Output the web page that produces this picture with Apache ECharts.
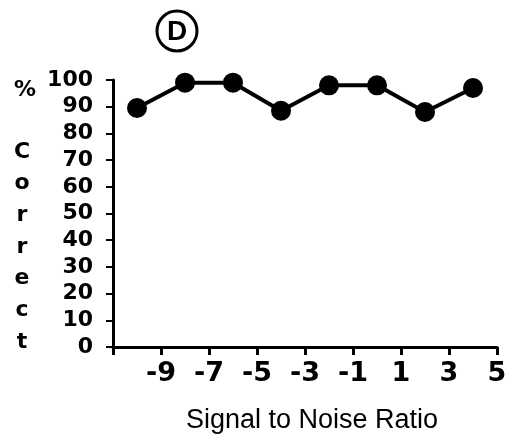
<!DOCTYPE html>
<html>
<head>
<meta charset="utf-8">
<script src="https://cdn.jsdelivr.net/npm/echarts@6/dist/echarts.min.js"></script>
<style>html,body{margin:0;padding:0;background:#fff}#c{width:512px;height:442px}</style>
</head>
<body>
<div id="c"></div>
<script>
const snrValues = [-10, -8, -6, -4, -2, 0, 2, 4];
const percentCorrect = [89.5, 99, 99, 88.5, 98, 98, 88, 97];
const xTickLabels = ['-9', '-7', '-5', '-3', '-1', '1', '3', '5'];
const yTickLabels = ['0', '10', '20', '30', '40', '50', '60', '70', '80', '90', '100'];
const panelLetter = 'D';
const xTitle = 'Signal to Noise Ratio';
const yTitleSymbol = '%';
const yTitleWord = 'Correct';

const chart = echarts.init(document.getElementById('c'), null, {renderer: 'canvas'});
const numFont = 'DejaVu Sans';
chart.setOption({
  animation: false,
  backgroundColor: '#fff',
  grid: {left: 113, right: 15, top: 80, bottom: 95, containLabel: false},
  xAxis: {
    type: 'value', min: -11, max: 5, interval: 2,
    splitLine: {show: false},
    axisLine: {show: true, onZero: false, lineStyle: {color: '#000', width: 3}},
    axisTick: {show: true, inside: false, length: 8, lineStyle: {color: '#000', width: 3}},
    axisLabel: {
      margin: 13, color: '#000', fontFamily: numFont, fontWeight: 'bold', fontSize: 27,
      formatter: v => xTickLabels.includes(String(v)) ? String(v) : ''
    },
    name: xTitle, nameLocation: 'middle', nameGap: 60,
    nameTextStyle: {color: '#000', fontFamily: 'Liberation Sans', fontSize: 27, padding: [0, 0, 0, 14]}
  },
  yAxis: {
    type: 'value', min: 0, max: 100, interval: 10,
    splitLine: {show: false},
    axisLine: {show: true, onZero: false, lineStyle: {color: '#000', width: 3}},
    axisTick: {show: true, inside: false, length: 7, lineStyle: {color: '#000', width: 2}},
    axisLabel: {
      margin: 20, color: '#000', fontFamily: numFont, fontWeight: 'bold', fontSize: 22,
      formatter: v => yTickLabels.includes(String(v)) ? String(v) : ''
    }
  },
  series: [{
    type: 'line',
    data: snrValues.map((x, i) => [x, percentCorrect[i]]),
    symbol: 'circle', symbolSize: 20,
    lineStyle: {color: '#000', width: 4},
    itemStyle: {color: '#000'}
  }],
  graphic: [
    {type: 'circle', shape: {cx: 177, cy: 31, r: 20}, style: {fill: 'none', stroke: '#000', lineWidth: 3}},
    {type: 'text', x: 177, y: 32, style: {text: panelLetter, fill: '#000', font: 'bold 28px "Liberation Sans"', align: 'center', verticalAlign: 'middle'}},
    {type: 'text', x: 25, y: 90, style: {text: yTitleSymbol, fill: '#000', font: 'bold 22px "DejaVu Sans"', align: 'center', verticalAlign: 'middle'}},
    {type: 'text', x: 22, y: 136, style: {text: yTitleWord.split('').join('\n'), fill: '#000', font: 'bold 22px "DejaVu Sans"', lineHeight: 31.7, align: 'center', verticalAlign: 'top'}}
  ]
});
</script>
</body>
</html>
